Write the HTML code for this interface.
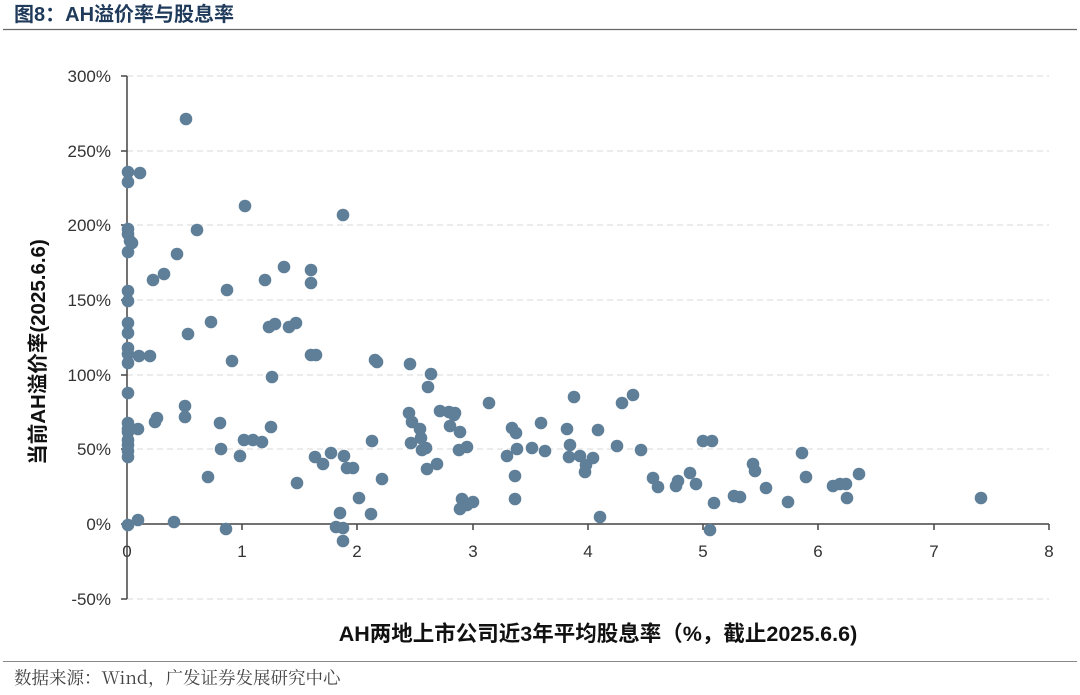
<!DOCTYPE html>
<html><head><meta charset="utf-8"><style>
body{margin:0;background:#fff;width:1080px;height:690px;overflow:hidden}
svg text{font-family:"Liberation Sans","Noto Sans CJK SC",sans-serif}
</style></head><body>
<svg width="1080" height="690" xmlns="http://www.w3.org/2000/svg">
<text x="14" y="21" font-size="20" font-weight="bold" fill="#1f3a5a">图8：AH溢价率与股息率</text>
<line x1="3" y1="29.5" x2="1077" y2="29.5" stroke="#666" stroke-width="1.3"/>
<line x1="3" y1="661.5" x2="1077" y2="661.5" stroke="#888" stroke-width="1"/>
<text x="14" y="684" font-size="17.5" fill="#444" style="font-family:'Noto Serif CJK SC','Liberation Serif',serif">数据来源：Wind，广发证券发展研究中心</text>
<g stroke="#d9d9d9" stroke-dasharray="6,4" stroke-width="1">
<line x1="127" y1="76" x2="1049" y2="76"/><line x1="127" y1="151" x2="1049" y2="151"/>
<line x1="127" y1="225" x2="1049" y2="225"/><line x1="127" y1="300" x2="1049" y2="300"/>
<line x1="127" y1="375" x2="1049" y2="375"/><line x1="127" y1="449" x2="1049" y2="449"/>
<line x1="127" y1="599" x2="1049" y2="599"/>
</g>
<g font-size="17" fill="#333" text-anchor="end">
<text x="111" y="82">300%</text><text x="111" y="157">250%</text><text x="111" y="231">200%</text>
<text x="111" y="306">150%</text><text x="111" y="381">100%</text><text x="111" y="455">50%</text>
<text x="111" y="530">0%</text><text x="111" y="605">-50%</text>
</g>
<g font-size="17" fill="#333" text-anchor="middle">
<text x="127" y="557">0</text><text x="242" y="557">1</text><text x="357" y="557">2</text><text x="473" y="557">3</text>
<text x="588" y="557">4</text><text x="703" y="557">5</text><text x="818" y="557">6</text><text x="934" y="557">7</text><text x="1049" y="557">8</text>
</g>
<g stroke="#444" stroke-width="1.5">
<line x1="127" y1="76" x2="127" y2="599"/><line x1="127" y1="524" x2="1049" y2="524"/>
<line x1="121" y1="76" x2="127" y2="76"/><line x1="121" y1="151" x2="127" y2="151"/><line x1="121" y1="225" x2="127" y2="225"/><line x1="121" y1="300" x2="127" y2="300"/><line x1="121" y1="375" x2="127" y2="375"/><line x1="121" y1="449" x2="127" y2="449"/><line x1="121" y1="524" x2="127" y2="524"/><line x1="121" y1="599" x2="127" y2="599"/>
<line x1="242" y1="524" x2="242" y2="530"/><line x1="357" y1="524" x2="357" y2="530"/><line x1="473" y1="524" x2="473" y2="530"/><line x1="588" y1="524" x2="588" y2="530"/><line x1="703" y1="524" x2="703" y2="530"/><line x1="818" y1="524" x2="818" y2="530"/><line x1="934" y1="524" x2="934" y2="530"/><line x1="1049" y1="524" x2="1049" y2="530"/>
</g>
<text x="598" y="641" font-size="21.5" font-weight="bold" fill="#111" text-anchor="middle">AH两地上市公司近3年平均股息率（%，截止2025.6.6)</text>
<text transform="translate(45,352) rotate(-90)" font-size="20.5" font-weight="bold" fill="#111" text-anchor="middle">当前AH溢价率(2025.6.6)</text>
<g fill="#5f7f99" id="pts"></g>
</svg>
<script>
var p=[[186,119],[128,172],[140,173],[128,182],[245,206],[343,215],[128,229],[128,234],[197,230],[130,241],[132,243],[128,252],[177,254],[153,280],[164,274],[128,291],[227,290],[265,280],[284,267],[311,270],[311,283],[128,301],[128,323],[128,333],[188,334],[211,322],[269,327],[275,324],[289,327],[296,323],[128,348],[128,354],[128,363],[139,356],[150,356],[232,361],[311,355],[316,355],[375,360],[377,362],[128,393],[272,377],[410,364],[431,374],[428,387],[128,423],[128,429],[185,406],[185,417],[157,418],[155,422],[220,423],[128,432],[128,440],[138,429],[128,445],[128,457],[128,451],[271,427],[244,440],[253,440],[262,442],[221,449],[240,456],[208,477],[315,457],[297,483],[323,464],[331,453],[344,456],[347,468],[353,468],[382,479],[372,441],[359,498],[340,513],[343,528],[336,527],[343,541],[371,514],[128,525],[138,520],[174,522],[226,529],[409,413],[412,422],[420,429],[411,443],[421,438],[426,448],[422,450],[427,469],[437,464],[440,411],[449,412],[454,415],[450,426],[455,413],[460,432],[459,450],[467,447],[462,499],[467,505],[460,509],[473,502],[489,403],[507,456],[512,428],[516,433],[517,449],[515,476],[515,499],[532,448],[541,423],[545,451],[567,429],[570,445],[569,457],[574,397],[580,456],[585,472],[586,465],[593,458],[598,430],[600,517],[617,446],[622,403],[633,395],[641,450],[653,478],[658,487],[676,486],[678,481],[690,473],[696,484],[703,441],[712,441],[714,503],[710,530],[734,496],[740,497],[753,464],[755,471],[766,488],[788,502],[802,453],[806,477],[833,486],[840,484],[846,484],[847,498],[859,474],[981,498]];
var g=document.getElementById('pts'),s='';
p.forEach(function(a){s+='<circle cx="'+a[0]+'" cy="'+a[1]+'" r="6.3"/>';});
g.innerHTML=s;
</script>
</body></html>
